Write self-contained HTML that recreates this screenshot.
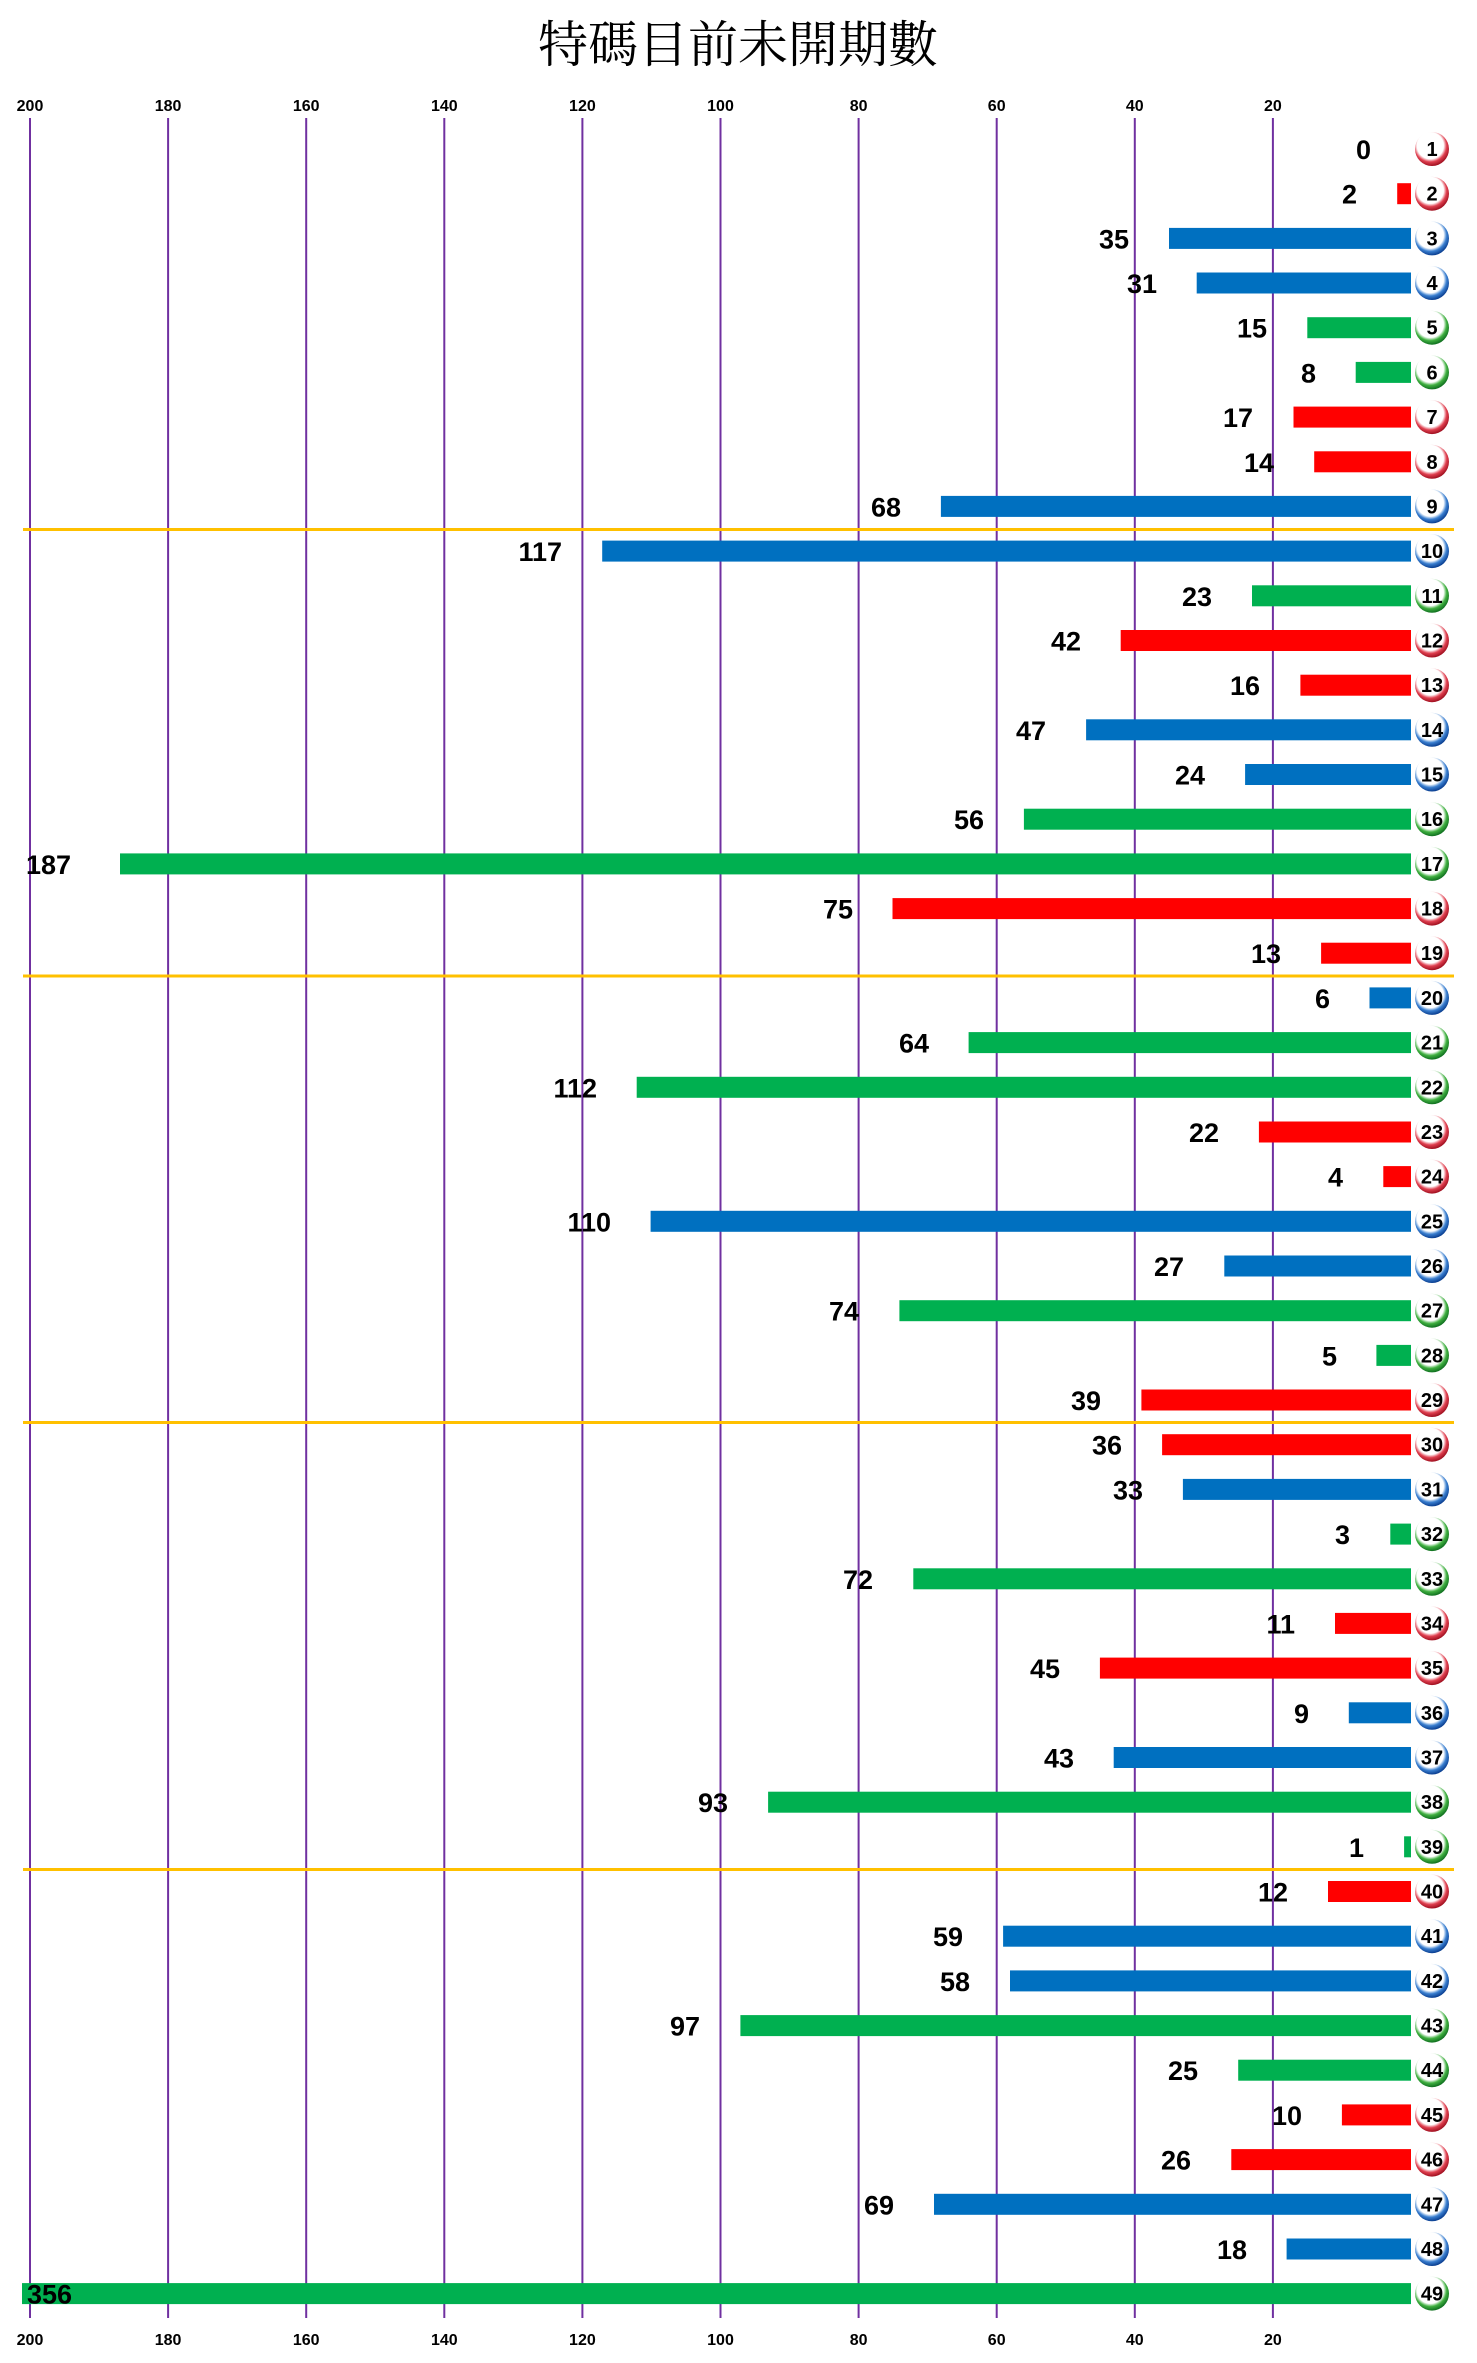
<!DOCTYPE html>
<html><head><meta charset="utf-8"><style>
html,body{margin:0;padding:0;background:#fff;}
svg{display:block;}
.v{font-family:"Liberation Sans",sans-serif;font-weight:bold;font-size:27px;fill:#000;text-anchor:end;}
.t{font-family:"Liberation Sans",sans-serif;font-weight:bold;font-size:16px;fill:#000;text-anchor:middle;}
.b{font-family:"Liberation Sans",sans-serif;font-weight:bold;font-size:20px;fill:#000;text-anchor:middle;}
.R{fill:#ff0000}.B{fill:#0070c0}.G{fill:#00b050}
</style></head><body>
<svg width="1477" height="2363" viewBox="0 0 1477 2363" xmlns="http://www.w3.org/2000/svg">
<defs>
<radialGradient id="gr" cx="45%" cy="40%" r="60%"><stop offset="65%" stop-color="#fff"/><stop offset="80%" stop-color="#e04050"/><stop offset="100%" stop-color="#a01020"/></radialGradient>
<radialGradient id="gb" cx="45%" cy="40%" r="60%"><stop offset="65%" stop-color="#fff"/><stop offset="80%" stop-color="#3a7fd0"/><stop offset="100%" stop-color="#0a3e90"/></radialGradient>
<radialGradient id="gg" cx="45%" cy="40%" r="60%"><stop offset="65%" stop-color="#fff"/><stop offset="80%" stop-color="#40b040"/><stop offset="100%" stop-color="#107020"/></radialGradient>
</defs>
<text x="738" y="62" text-anchor="middle" font-family="'Liberation Serif','Noto Serif CJK SC','Noto Sans CJK TC',serif" font-size="50" fill="#000">特碼目前未開期數</text>
<g stroke="#7030a0" stroke-width="2">
<line x1="30" y1="118" x2="30" y2="2318"/><line x1="168.1" y1="118" x2="168.1" y2="2318"/><line x1="306.2" y1="118" x2="306.2" y2="2318"/><line x1="444.3" y1="118" x2="444.3" y2="2318"/><line x1="582.4" y1="118" x2="582.4" y2="2318"/><line x1="720.5" y1="118" x2="720.5" y2="2318"/><line x1="858.6" y1="118" x2="858.6" y2="2318"/><line x1="996.7" y1="118" x2="996.7" y2="2318"/><line x1="1134.8" y1="118" x2="1134.8" y2="2318"/><line x1="1272.9" y1="118" x2="1272.9" y2="2318"/>
</g>
<g class="t">
<text x="30" y="111">200</text><text x="168.1" y="111">180</text><text x="306.2" y="111">160</text><text x="444.3" y="111">140</text><text x="582.4" y="111">120</text><text x="720.5" y="111">100</text><text x="858.6" y="111">80</text><text x="996.7" y="111">60</text><text x="1134.8" y="111">40</text><text x="1272.9" y="111">20</text>
<text x="30" y="2345">200</text><text x="168.1" y="2345">180</text><text x="306.2" y="2345">160</text><text x="444.3" y="2345">140</text><text x="582.4" y="2345">120</text><text x="720.5" y="2345">100</text><text x="858.6" y="2345">80</text><text x="996.7" y="2345">60</text><text x="1134.8" y="2345">40</text><text x="1272.9" y="2345">20</text>
</g>
<g stroke="#ffc000" stroke-width="3">
<line x1="23" y1="529.5" x2="1454" y2="529.5"/><line x1="23" y1="976" x2="1454" y2="976"/><line x1="23" y1="1422.5" x2="1454" y2="1422.5"/><line x1="23" y1="1869.5" x2="1454" y2="1869.5"/>
</g>

<g transform="translate(0,149)"><text class="v" x="1371" y="10">0</text><circle cx="1432" cy="0" r="17" fill="url(#gr)"/><text class="b" x="1432" y="7">1</text></g>
<g transform="translate(0,193.7)"><rect class="R" x="1397.2" y="-10.5" width="13.8" height="21"/><text class="v" x="1357" y="10">2</text><circle cx="1432" cy="0" r="17" fill="url(#gr)"/><text class="b" x="1432" y="7">2</text></g>
<g transform="translate(0,238.4)"><rect class="B" x="1169" y="-10.5" width="242" height="21"/><text class="v" x="1129" y="10">35</text><circle cx="1432" cy="0" r="17" fill="url(#gb)"/><text class="b" x="1432" y="7">3</text></g>
<g transform="translate(0,283)"><rect class="B" x="1196.7" y="-10.5" width="214.3" height="21"/><text class="v" x="1157" y="10">31</text><circle cx="1432" cy="0" r="17" fill="url(#gb)"/><text class="b" x="1432" y="7">4</text></g>
<g transform="translate(0,327.7)"><rect class="G" x="1307.3" y="-10.5" width="103.7" height="21"/><text class="v" x="1267" y="10">15</text><circle cx="1432" cy="0" r="17" fill="url(#gg)"/><text class="b" x="1432" y="7">5</text></g>
<g transform="translate(0,372.4)"><rect class="G" x="1355.7" y="-10.5" width="55.3" height="21"/><text class="v" x="1316" y="10">8</text><circle cx="1432" cy="0" r="17" fill="url(#gg)"/><text class="b" x="1432" y="7">6</text></g>
<g transform="translate(0,417.1)"><rect class="R" x="1293.5" y="-10.5" width="117.5" height="21"/><text class="v" x="1253" y="10">17</text><circle cx="1432" cy="0" r="17" fill="url(#gr)"/><text class="b" x="1432" y="7">7</text></g>
<g transform="translate(0,461.8)"><rect class="R" x="1314.2" y="-10.5" width="96.8" height="21"/><text class="v" x="1274" y="10">14</text><circle cx="1432" cy="0" r="17" fill="url(#gr)"/><text class="b" x="1432" y="7">8</text></g>
<g transform="translate(0,506.4)"><rect class="B" x="940.9" y="-10.5" width="470.1" height="21"/><text class="v" x="901" y="10">68</text><circle cx="1432" cy="0" r="17" fill="url(#gb)"/><text class="b" x="1432" y="7">9</text></g>
<g transform="translate(0,551.1)"><rect class="B" x="602.2" y="-10.5" width="808.8" height="21"/><text class="v" x="562" y="10">117</text><circle cx="1432" cy="0" r="17" fill="url(#gb)"/><text class="b" x="1432" y="7">10</text></g>
<g transform="translate(0,595.8)"><rect class="G" x="1252" y="-10.5" width="159" height="21"/><text class="v" x="1212" y="10">23</text><circle cx="1432" cy="0" r="17" fill="url(#gg)"/><text class="b" x="1432" y="7">11</text></g>
<g transform="translate(0,640.5)"><rect class="R" x="1120.7" y="-10.5" width="290.3" height="21"/><text class="v" x="1081" y="10">42</text><circle cx="1432" cy="0" r="17" fill="url(#gr)"/><text class="b" x="1432" y="7">12</text></g>
<g transform="translate(0,685.2)"><rect class="R" x="1300.4" y="-10.5" width="110.6" height="21"/><text class="v" x="1260" y="10">16</text><circle cx="1432" cy="0" r="17" fill="url(#gr)"/><text class="b" x="1432" y="7">13</text></g>
<g transform="translate(0,729.8)"><rect class="B" x="1086.1" y="-10.5" width="324.9" height="21"/><text class="v" x="1046" y="10">47</text><circle cx="1432" cy="0" r="17" fill="url(#gb)"/><text class="b" x="1432" y="7">14</text></g>
<g transform="translate(0,774.5)"><rect class="B" x="1245.1" y="-10.5" width="165.9" height="21"/><text class="v" x="1205" y="10">24</text><circle cx="1432" cy="0" r="17" fill="url(#gb)"/><text class="b" x="1432" y="7">15</text></g>
<g transform="translate(0,819.2)"><rect class="G" x="1023.9" y="-10.5" width="387.1" height="21"/><text class="v" x="984" y="10">56</text><circle cx="1432" cy="0" r="17" fill="url(#gg)"/><text class="b" x="1432" y="7">16</text></g>
<g transform="translate(0,863.9)"><rect class="G" x="120" y="-10.5" width="1291" height="21"/><text class="v" x="71" y="10">187</text><circle cx="1432" cy="0" r="17" fill="url(#gg)"/><text class="b" x="1432" y="7">17</text></g>
<g transform="translate(0,908.6)"><rect class="R" x="892.5" y="-10.5" width="518.5" height="21"/><text class="v" x="853" y="10">75</text><circle cx="1432" cy="0" r="17" fill="url(#gr)"/><text class="b" x="1432" y="7">18</text></g>
<g transform="translate(0,953.2)"><rect class="R" x="1321.1" y="-10.5" width="89.9" height="21"/><text class="v" x="1281" y="10">13</text><circle cx="1432" cy="0" r="17" fill="url(#gr)"/><text class="b" x="1432" y="7">19</text></g>
<g transform="translate(0,997.9)"><rect class="B" x="1369.5" y="-10.5" width="41.5" height="21"/><text class="v" x="1330" y="10">6</text><circle cx="1432" cy="0" r="17" fill="url(#gb)"/><text class="b" x="1432" y="7">20</text></g>
<g transform="translate(0,1042.6)"><rect class="G" x="968.6" y="-10.5" width="442.4" height="21"/><text class="v" x="929" y="10">64</text><circle cx="1432" cy="0" r="17" fill="url(#gg)"/><text class="b" x="1432" y="7">21</text></g>
<g transform="translate(0,1087.3)"><rect class="G" x="636.7" y="-10.5" width="774.3" height="21"/><text class="v" x="597" y="10">112</text><circle cx="1432" cy="0" r="17" fill="url(#gg)"/><text class="b" x="1432" y="7">22</text></g>
<g transform="translate(0,1132)"><rect class="R" x="1258.9" y="-10.5" width="152.1" height="21"/><text class="v" x="1219" y="10">22</text><circle cx="1432" cy="0" r="17" fill="url(#gr)"/><text class="b" x="1432" y="7">23</text></g>
<g transform="translate(0,1176.6)"><rect class="R" x="1383.3" y="-10.5" width="27.7" height="21"/><text class="v" x="1343" y="10">4</text><circle cx="1432" cy="0" r="17" fill="url(#gr)"/><text class="b" x="1432" y="7">24</text></g>
<g transform="translate(0,1221.3)"><rect class="B" x="650.6" y="-10.5" width="760.4" height="21"/><text class="v" x="611" y="10">110</text><circle cx="1432" cy="0" r="17" fill="url(#gb)"/><text class="b" x="1432" y="7">25</text></g>
<g transform="translate(0,1266)"><rect class="B" x="1224.3" y="-10.5" width="186.7" height="21"/><text class="v" x="1184" y="10">27</text><circle cx="1432" cy="0" r="17" fill="url(#gb)"/><text class="b" x="1432" y="7">26</text></g>
<g transform="translate(0,1310.7)"><rect class="G" x="899.4" y="-10.5" width="511.6" height="21"/><text class="v" x="859" y="10">74</text><circle cx="1432" cy="0" r="17" fill="url(#gg)"/><text class="b" x="1432" y="7">27</text></g>
<g transform="translate(0,1355.4)"><rect class="G" x="1376.4" y="-10.5" width="34.6" height="21"/><text class="v" x="1337" y="10">5</text><circle cx="1432" cy="0" r="17" fill="url(#gg)"/><text class="b" x="1432" y="7">28</text></g>
<g transform="translate(0,1400)"><rect class="R" x="1141.4" y="-10.5" width="269.6" height="21"/><text class="v" x="1101" y="10">39</text><circle cx="1432" cy="0" r="17" fill="url(#gr)"/><text class="b" x="1432" y="7">29</text></g>
<g transform="translate(0,1444.7)"><rect class="R" x="1162.1" y="-10.5" width="248.9" height="21"/><text class="v" x="1122" y="10">36</text><circle cx="1432" cy="0" r="17" fill="url(#gr)"/><text class="b" x="1432" y="7">30</text></g>
<g transform="translate(0,1489.4)"><rect class="B" x="1182.9" y="-10.5" width="228.1" height="21"/><text class="v" x="1143" y="10">33</text><circle cx="1432" cy="0" r="17" fill="url(#gb)"/><text class="b" x="1432" y="7">31</text></g>
<g transform="translate(0,1534.1)"><rect class="G" x="1390.3" y="-10.5" width="20.7" height="21"/><text class="v" x="1350" y="10">3</text><circle cx="1432" cy="0" r="17" fill="url(#gg)"/><text class="b" x="1432" y="7">32</text></g>
<g transform="translate(0,1578.8)"><rect class="G" x="913.3" y="-10.5" width="497.7" height="21"/><text class="v" x="873" y="10">72</text><circle cx="1432" cy="0" r="17" fill="url(#gg)"/><text class="b" x="1432" y="7">33</text></g>
<g transform="translate(0,1623.4)"><rect class="R" x="1335" y="-10.5" width="76" height="21"/><text class="v" x="1295" y="10">11</text><circle cx="1432" cy="0" r="17" fill="url(#gr)"/><text class="b" x="1432" y="7">34</text></g>
<g transform="translate(0,1668.1)"><rect class="R" x="1099.9" y="-10.5" width="311.1" height="21"/><text class="v" x="1060" y="10">45</text><circle cx="1432" cy="0" r="17" fill="url(#gr)"/><text class="b" x="1432" y="7">35</text></g>
<g transform="translate(0,1712.8)"><rect class="B" x="1348.8" y="-10.5" width="62.2" height="21"/><text class="v" x="1309" y="10">9</text><circle cx="1432" cy="0" r="17" fill="url(#gb)"/><text class="b" x="1432" y="7">36</text></g>
<g transform="translate(0,1757.5)"><rect class="B" x="1113.7" y="-10.5" width="297.3" height="21"/><text class="v" x="1074" y="10">43</text><circle cx="1432" cy="0" r="17" fill="url(#gb)"/><text class="b" x="1432" y="7">37</text></g>
<g transform="translate(0,1802.2)"><rect class="G" x="768.1" y="-10.5" width="642.9" height="21"/><text class="v" x="728" y="10">93</text><circle cx="1432" cy="0" r="17" fill="url(#gg)"/><text class="b" x="1432" y="7">38</text></g>
<g transform="translate(0,1846.8)"><rect class="G" x="1404.1" y="-10.5" width="6.9" height="21"/><text class="v" x="1364" y="10">1</text><circle cx="1432" cy="0" r="17" fill="url(#gg)"/><text class="b" x="1432" y="7">39</text></g>
<g transform="translate(0,1891.5)"><rect class="R" x="1328" y="-10.5" width="83" height="21"/><text class="v" x="1288" y="10">12</text><circle cx="1432" cy="0" r="17" fill="url(#gr)"/><text class="b" x="1432" y="7">40</text></g>
<g transform="translate(0,1936.2)"><rect class="B" x="1003.1" y="-10.5" width="407.9" height="21"/><text class="v" x="963" y="10">59</text><circle cx="1432" cy="0" r="17" fill="url(#gb)"/><text class="b" x="1432" y="7">41</text></g>
<g transform="translate(0,1980.9)"><rect class="B" x="1010" y="-10.5" width="401" height="21"/><text class="v" x="970" y="10">58</text><circle cx="1432" cy="0" r="17" fill="url(#gb)"/><text class="b" x="1432" y="7">42</text></g>
<g transform="translate(0,2025.6)"><rect class="G" x="740.4" y="-10.5" width="670.6" height="21"/><text class="v" x="700" y="10">97</text><circle cx="1432" cy="0" r="17" fill="url(#gg)"/><text class="b" x="1432" y="7">43</text></g>
<g transform="translate(0,2070.2)"><rect class="G" x="1238.2" y="-10.5" width="172.8" height="21"/><text class="v" x="1198" y="10">25</text><circle cx="1432" cy="0" r="17" fill="url(#gg)"/><text class="b" x="1432" y="7">44</text></g>
<g transform="translate(0,2114.9)"><rect class="R" x="1341.9" y="-10.5" width="69.1" height="21"/><text class="v" x="1302" y="10">10</text><circle cx="1432" cy="0" r="17" fill="url(#gr)"/><text class="b" x="1432" y="7">45</text></g>
<g transform="translate(0,2159.6)"><rect class="R" x="1231.3" y="-10.5" width="179.7" height="21"/><text class="v" x="1191" y="10">26</text><circle cx="1432" cy="0" r="17" fill="url(#gr)"/><text class="b" x="1432" y="7">46</text></g>
<g transform="translate(0,2204.3)"><rect class="B" x="934" y="-10.5" width="477" height="21"/><text class="v" x="894" y="10">69</text><circle cx="1432" cy="0" r="17" fill="url(#gb)"/><text class="b" x="1432" y="7">47</text></g>
<g transform="translate(0,2249)"><rect class="B" x="1286.6" y="-10.5" width="124.4" height="21"/><text class="v" x="1247" y="10">18</text><circle cx="1432" cy="0" r="17" fill="url(#gb)"/><text class="b" x="1432" y="7">48</text></g>
<g transform="translate(0,2293.6)"><rect class="G" x="22" y="-10.5" width="1389" height="21"/><text class="v" x="72" y="10">356</text><circle cx="1432" cy="0" r="17" fill="url(#gg)"/><text class="b" x="1432" y="7">49</text></g>
</svg>
</body></html>
